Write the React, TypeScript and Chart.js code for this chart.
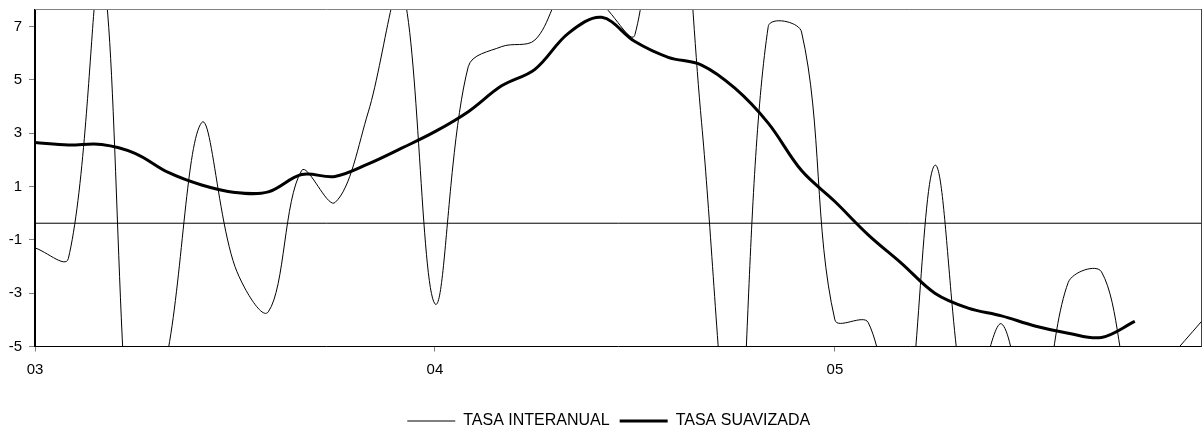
import React, { useEffect, useRef } from "react";
import { Chart, registerables } from "chart.js";

Chart.register(...registerables);

// ---- data (monthly, Jan-03 = 0) ----
const SERIES_NAMES = ["TASA INTERANUAL", "TASA SUAVIZADA"];
const TASA_INTERANUAL = [
  -1.3, -1.7, 9.2, -10.6, -5.1, 3.4, -2.0, -3.7, 1.6, 0.4, 3.8, 8.5,
  -3.4, 5.5, 6.25, 6.5, 8.6, 7.85, 6.7, 17, 3.4, -10, 7.0, 6.8,
  -4.0, -4.1, -9, 1.8, -7.5, -4.15, -9, -2.6, -2.2, -7, -5.5, -4.06,
];
const TASA_SUAVIZADA = [
  2.65, 2.56, 2.58, 2.25, 1.53, 1.06, 0.78, 0.8, 1.45, 1.38, 1.85, 2.44,
  3.06, 3.81, 4.78, 5.4, 6.75, 7.35, 6.44, 5.85, 5.56, 4.69, 3.38, 1.6,
  0.44, -0.81, -1.88, -3.0, -3.56, -3.85, -4.23, -4.5, -4.66, -4.06,
];
const X_TICK_POSITIONS = [0, 12, 24];
const X_TICK_LABELS = ["03", "04", "05"];
const Y_TICKS = [-5, -3, -1, 1, 3, 5, 7];
const X_MIN = 0;
const X_MAX = 35;
const Y_MIN = -5;
const Y_MAX = 7.625;
const REFERENCE_LEVEL = -0.375;

const FONT = "'Liberation Sans', Arial, Helvetica, sans-serif";

const plotFrame = {
  id: "plotFrame",
  afterLayout(chart: any) {
    // let the y tick labels use the space to the left of the axis box
    if (chart.scales.y) chart.scales.y.left = 0;
  },
  beforeDatasetsDraw(chart: any) {
    const { ctx, chartArea: a } = chart;
    ctx.save();
    ctx.lineWidth = 1;
    ctx.strokeStyle = "#808080";
    ctx.beginPath();
    ctx.moveTo(a.left, a.top - 0.5);
    ctx.lineTo(a.right, a.top - 0.5);
    ctx.stroke();
    ctx.strokeStyle = "#404040";
    ctx.beginPath();
    ctx.moveTo(a.right, a.top - 1);
    ctx.lineTo(a.right, a.bottom);
    ctx.stroke();
    ctx.restore();
  },
};

export default function App() {
  const canvasRef = useRef<HTMLCanvasElement>(null);

  useEffect(() => {
    const toPoints = (arr: number[]) => arr.map((y, i) => ({ x: i, y }));
    const chart = new Chart(canvasRef.current as HTMLCanvasElement, {
      type: "line",
      data: {
        datasets: [
          {
            label: SERIES_NAMES[0],
            data: toPoints(TASA_INTERANUAL),
            borderColor: "#000",
            backgroundColor: "#000",
            borderWidth: 1,
            pointRadius: 0,
            tension: 0.35,
            capBezierPoints: false,
            clip: 0,
          } as any,
          {
            label: SERIES_NAMES[1],
            data: toPoints(TASA_SUAVIZADA),
            borderColor: "#000",
            backgroundColor: "#000",
            borderWidth: 3,
            pointRadius: 0,
            tension: 0.35,
            capBezierPoints: false,
            clip: 0,
          } as any,
          {
            label: "",
            data: [
              { x: X_MIN, y: REFERENCE_LEVEL },
              { x: X_MAX, y: REFERENCE_LEVEL },
            ],
            borderColor: "#000",
            borderWidth: 1,
            pointRadius: 0,
            tension: 0,
            clip: 0,
          } as any,
        ],
      },
      options: {
        animation: false,
        responsive: false,
        events: [],
        layout: { padding: { top: 10, left: 16, right: 1.5, bottom: -4 } },
        elements: { line: { capBezierPoints: false } as any },
        plugins: {
          tooltip: { enabled: false },
          legend: {
            position: "bottom",
            labels: {
              usePointStyle: true,
              pointStyle: "line",
              pointStyleWidth: 48,
              boxWidth: 48,
              padding: 10,
              color: "#000",
              font: { size: 16, family: FONT },
              filter: (item: any) => item.text !== "",
            },
          },
        },
        scales: {
          x: {
            type: "linear",
            min: X_MIN,
            max: X_MAX,
            afterBuildTicks: (s: any) => {
              s.ticks = X_TICK_POSITIONS.map((v) => ({ value: v }));
            },
            afterFit: (s: any) => {
              s.height = 56.5;
              s.paddingLeft = 0;
              s.paddingRight = 0;
            },
            ticks: {
              autoSkip: false,
              maxRotation: 0,
              padding: 9.5,
              color: "#000",
              font: { size: 15, family: FONT },
              callback: (_v: any, i: number) => X_TICK_LABELS[i],
            },
            grid: {
              drawOnChartArea: false,
              drawTicks: true,
              tickLength: 5,
              color: "#808080",
            },
            border: { color: "#000", width: 1 },
          },
          y: {
            type: "linear",
            min: Y_MIN,
            max: Y_MAX,
            afterBuildTicks: (s: any) => {
              s.ticks = Y_TICKS.map((v) => ({ value: v }));
            },
            afterFit: (s: any) => {
              s.width = 19;
              s.paddingTop = 0;
              s.paddingBottom = 0;
            },
            ticks: {
              padding: 7,
              color: "#000",
              font: { size: 15, family: FONT },
              callback: (v: any) => String(v),
            },
            grid: {
              drawOnChartArea: false,
              drawTicks: true,
              tickLength: 6,
              color: "#808080",
            },
            border: { color: "#000", width: 2 },
          },
        },
      } as any,
      plugins: [plotFrame],
    });
    return () => chart.destroy();
  }, []);

  return (
    <div
      style={{
        position: "absolute",
        left: 0,
        top: 0,
        width: 1203,
        height: 435,
        background: "#fff",
      }}
    >
      <canvas
        ref={canvasRef}
        width={1203}
        height={435}
        style={{ display: "block", width: 1203, height: 435 }}
      />
    </div>
  );
}
